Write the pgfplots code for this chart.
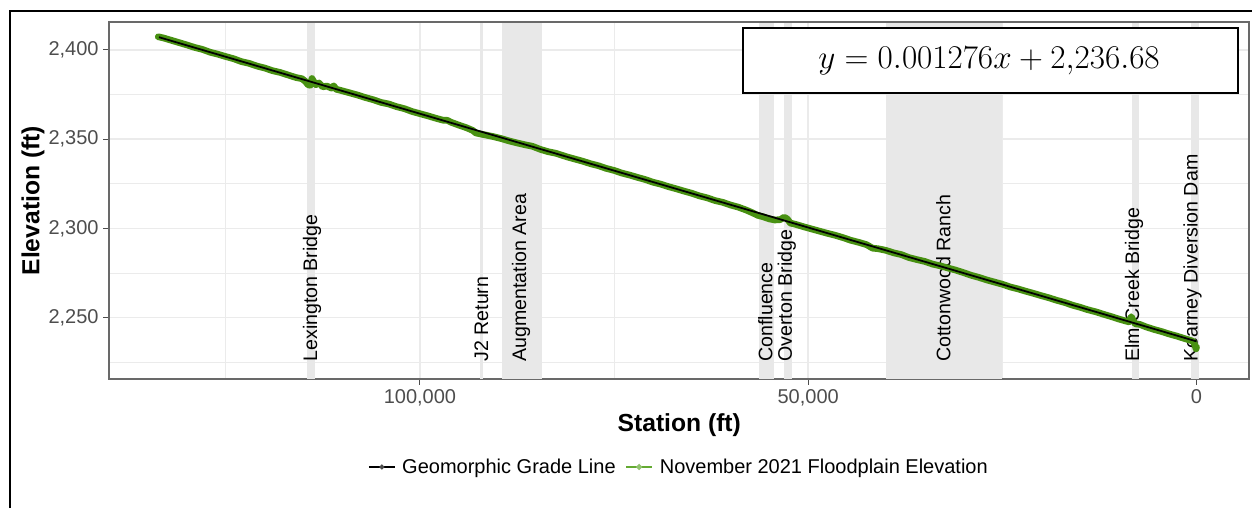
\documentclass[border=0pt]{standalone}
\usepackage{pgfplots}
\pgfplotsset{compat=1.18}
\usepackage{fontspec}
\setmainfont{Liberation Sans}
\definecolor{gridgray}{RGB}{235,235,235}
\definecolor{bandgray}{RGB}{232,232,232}
\definecolor{tickgray}{RGB}{77,77,77}
\definecolor{bordergray}{RGB}{105,105,105}
\definecolor{fpgreen}{RGB}{72,145,18}
\definecolor{fpgreenkey}{RGB}{100,170,50}
\newcommand{\lblfont}{\fontsize{14.7}{17}\selectfont}
\begin{document}
\begin{tikzpicture}
\begin{axis}[
  name=ax,
  at={(81.975pt,-16.725pt)}, anchor=north west,
  scale only axis, width=855pt, height=267.5pt,
  x dir=reverse,
  xmin=-6800, xmax=140000, ymin=2215.6, ymax=2415.5,
  scaled x ticks=false, scaled y ticks=false,
  xtick={0,50000,100000}, xticklabels={{0},{50,000},{100,000}},
  ytick={2250,2300,2350,2400}, yticklabels={{2,250},{2,300},{2,350},{2,400}},
  minor xtick={25000,75000,125000}, minor ytick={2225,2275,2325,2375},
  grid=both,
  major grid style={color=gridgray, line width=1.1pt},
  minor grid style={color=gridgray, line width=0.55pt},
  minor tick length=0pt,
  tick align=outside, major tick length=4.5pt,
  xtick pos=bottom, ytick pos=left,
  tick style={color=tickgray, line width=0.8pt},
  axis line style={color=bordergray, line width=1.3pt},
  ticklabel style={font=\fontsize{15}{18}\selectfont, text=tickgray},
  xlabel={Station (ft)}, ylabel={Elevation (ft)},
  label style={font=\bfseries\fontsize{18.5}{22}\selectfont},
  xlabel style={at={(axis description cs:0.5,-0.129)}, anchor=center},
  ylabel style={at={(axis description cs:-0.0669,0.5)}, anchor=center, rotate=0},
  legend style={at={(axis description cs:0.5,-0.2467)}, anchor=center, draw=none, fill=none,
    font=\fontsize{15}{18}\selectfont, legend columns=2,
    /tikz/every odd column/.append style={column sep=3pt},
    /tikz/every even column/.append style={column sep=5pt}},
  legend image code/.code={\draw[mark repeat=2,mark phase=2,#1] plot coordinates {(0pt,0pt) (9.75pt,0pt) (19.5pt,0pt)};},
]
% shaded reaches
\fill[bandgray] (axis cs:114590,2215.6) rectangle (axis cs:113520,2415.5);
\fill[bandgray] (axis cs:92250,2215.6) rectangle (axis cs:91850,2415.5);
\fill[bandgray] (axis cs:89480,2215.6) rectangle (axis cs:84250,2415.5);
\fill[bandgray] (axis cs:56340,2215.6) rectangle (axis cs:54410,2415.5);
\fill[bandgray] (axis cs:53080,2215.6) rectangle (axis cs:52050,2415.5);
\fill[bandgray] (axis cs:40000,2215.6) rectangle (axis cs:25000,2415.5);
\fill[bandgray] (axis cs:8345,2215.6) rectangle (axis cs:7370,2415.5);
\fill[bandgray] (axis cs:747,2215.6) rectangle (axis cs:-322,2415.5);
% labels
\node[rotate=90, anchor=west, inner sep=0pt, font=\lblfont] at (axis cs:113900,2225.2) {Lexington Bridge};
\node[rotate=90, anchor=west, inner sep=0pt, font=\lblfont] at (axis cs:92080,2225.2) {J2 Return};
\node[rotate=90, anchor=west, inner sep=0pt, font=\lblfont] at (axis cs:86990,2225.2) {Augmentation Area};
\node[rotate=90, anchor=west, inner sep=0pt, font=\lblfont] at (axis cs:55500,2225.2) {Confluence};
\node[rotate=90, anchor=west, inner sep=0pt, font=\lblfont] at (axis cs:52740,2225.2) {Overton Bridge};
\node[rotate=90, anchor=west, inner sep=0pt, font=\lblfont] at (axis cs:32580,2225.2) {Cottonwood Ranch};
\node[rotate=90, anchor=west, inner sep=0pt, font=\lblfont] at (axis cs:8050,2225.2) {Elm Creek Bridge};
\node[rotate=90, anchor=west, inner sep=0pt, font=\lblfont] at (axis cs:515,2225.2) {Kearney Diversion Dam};
% legend images
\addlegendimage{black, line width=1.1pt, mark=*, mark size=1.3pt, mark options={fill=tickgray,draw=tickgray}}
\addlegendentry{Geomorphic Grade Line}
\addlegendimage{fpgreenkey, line width=1.6pt, mark=*, mark size=1.3pt, mark options={fill=fpgreenkey!70,draw=fpgreenkey!70}}
\addlegendentry{November 2021 Floodplain Elevation}
% floodplain elevation
\addplot[fpgreen, line width=5pt, line join=round, line cap=round, forget plot] coordinates {
(133700,2407.4) (133000,2406.7) (132000,2405.4) (131000,2404.1) (130000,2402.8)
(129000,2401.4) (128000,2400.3) (127000,2398.7) (126000,2397.6) (125000,2396.3)
(124000,2395.1) (123000,2393.5) (122000,2392.5) (121000,2391.0) (120000,2389.9)
(119000,2388.4) (118000,2387.4) (117000,2386.0) (116000,2384.6) (115200,2383.9)
(114800,2382.6) (114400,2380.5) (114100,2380.2) (113900,2384.0) (113700,2382.5)
(113400,2380.5) (113000,2381.5) (112500,2379.3) (112000,2379.8) (111400,2378.6)
(111100,2379.9) (110800,2378.0) (110000,2377.1) (109000,2375.9) (108000,2374.7)
(107000,2373.3) (106000,2372.1) (105000,2370.6) (104000,2369.7) (103000,2368.2)
(102000,2367.1) (101000,2365.5) (100000,2364.3) (99000,2363.1) (98000,2361.8)
(97000,2360.6) (96500,2360.6) (96000,2359.5) (95000,2357.9) (94000,2356.4)
(93200,2354.9) (92800,2353.5) (92300,2353.0) (91500,2352.3) (90500,2351.4)
(89500,2350.3) (88500,2349.0) (87500,2347.9) (86500,2346.9) (85500,2346.0)
(84500,2344.3) (83500,2343.0) (82500,2342.1) (81000,2340.0) (80000,2338.8)
(79000,2337.6) (78000,2336.2) (77000,2335.1) (76000,2333.6) (75000,2332.5)
(74000,2331.0) (73000,2329.9) (72000,2328.6) (71000,2327.4) (70000,2325.9)
(69000,2324.8) (68000,2323.4) (67000,2322.2) (66000,2320.9) (65000,2319.7)
(64000,2318.2) (63000,2317.1) (62000,2315.6) (61000,2314.6) (60000,2313.1)
(59000,2311.9) (58000,2310.3) (57200,2308.8) (56500,2307.3) (55800,2306.5)
(55000,2305.3) (54300,2304.7) (53600,2304.9) (53100,2306.3) (52700,2305.3)
(52300,2303.0) (51500,2302.1) (50500,2300.8) (49500,2299.6) (48500,2298.4)
(47500,2297.2) (46500,2296.1) (45500,2294.8) (44500,2293.3) (43500,2292.2)
(42500,2290.9) (41700,2288.9) (41000,2288.6) (40000,2287.7) (39000,2286.3)
(38000,2285.3) (37000,2283.6) (36000,2282.5) (35000,2281.5) (34000,2280.0)
(33000,2279.0) (32000,2277.8) (31000,2276.6) (30000,2275.2) (29000,2273.7)
(28000,2272.5) (27000,2271.1) (26000,2269.9) (25000,2268.7) (24000,2267.2)
(23000,2266.1) (22000,2264.8) (21000,2263.6) (20000,2262.3) (19000,2261.1)
(18000,2259.7) (17000,2258.5) (16000,2257.0) (15000,2255.8) (14000,2254.4)
(13000,2253.3) (12000,2251.9) (11000,2250.6) (10000,2249.2) (9200,2248.2)
(8700,2247.6) (8400,2250.5) (8200,2248.8) (7900,2246.5) (7300,2246.2)
(6500,2244.8) (5500,2243.4) (4500,2242.2) (3500,2240.8) (2500,2239.6)
(1500,2238.2) (800,2237.3) (400,2236.6) (200,2234.5) (50,2232.5) (0,2233.5)
};
% geomorphic grade line
\addplot[black, line width=1.3pt, forget plot] coordinates {
(133600,2407.15) (100000,2364.28) (50000,2300.48) (0,2236.68)
};
\end{axis}
% panel border (top and right)
\draw[bordergray, line width=1.3pt] (81.975pt,-16.725pt) -- (936.975pt,-16.725pt) -- (936.975pt,-284.225pt);
% equation box
\draw[black, line width=1.5pt, fill=white] (557.0pt,-21.2pt) rectangle (928.3pt,-69.5pt);
\node[font=\fontsize{26}{31}\selectfont, inner sep=0pt] at (741.8pt,-45.4pt) {$y = 0.001276x + 2{,}236.68$};
% outer frame
\draw[black, line width=1.5pt] (7.5pt,-381pt) -- (7.5pt,-8.25pt) -- (939pt,-8.25pt);
\pgfresetboundingbox
\path[use as bounding box] (0pt,0pt) rectangle (939pt,-381pt);
\end{tikzpicture}
\end{document}
